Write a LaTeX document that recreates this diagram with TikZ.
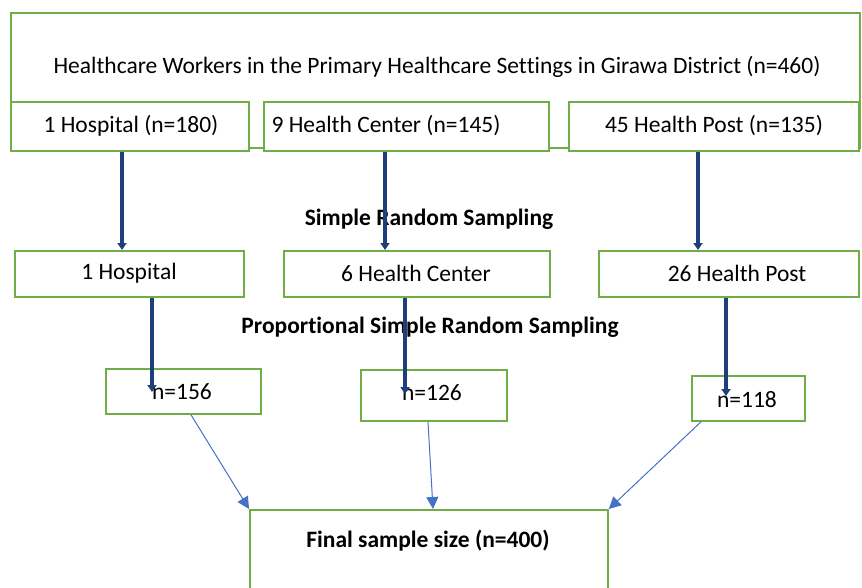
\documentclass[tikz,border=0pt]{standalone}
\usepackage{fontspec}
\setmainfont[Ligatures=NoCommon]{Carlito}
\usetikzlibrary{arrows.meta}
\definecolor{boxgreen}{HTML}{70AD47}
\definecolor{navy}{HTML}{1F3F7A}
\definecolor{thinblue}{HTML}{4472C4}
\newcommand{\nolig}{\kern0pt}
\begin{document}
\begin{tikzpicture}[x=1pt,y=-1pt,
  box/.style={draw=boxgreen,line width=1.8pt,fill=white,anchor=north west,inner sep=0pt},
  txt/.style={font=\fontsize{23.5}{28}\selectfont,inner sep=0pt},
  lbl/.style={font=\fontsize{23.5}{28}\selectfont\bfseries,inner sep=0pt},
  thick arrow/.style={draw=navy,line width=3.4pt,-{Triangle[length=7pt,width=9pt]}},
  thin arrow/.style={draw=thinblue,line width=1pt,-{Triangle[length=12pt,width=12pt]}}]
\useasboundingbox (0,0) rectangle (862,587);
% top
\node[box,minimum width=849pt,minimum height=135pt] (top) at (10,12) {};
\node[txt] (toptxt) at (437,67) {Healthcare Workers in the Primary Healthcare Set\nolig t\nolig ings in Girawa District (n=460)};
% row 1
\node[box,minimum width=238pt,minimum height=49pt] (r1a) at (10,101) {};
\node[txt] (r1at) at (131,126) {1 Hospital (n=180)};
\node[box,minimum width=285pt,minimum height=49pt] (r1b) at (263,101) {};
\node[txt] (r1bt) at (386,126) {9 Health Center (n=145)};
\node[box,minimum width=290pt,minimum height=49pt] (r1c) at (568,101) {};
\node[txt] (r1ct) at (714,126) {45 Health Post (n=135)};
% label 1
\node[lbl] (srs) at (429,219) {Simple Random Sampling};
% row 2
\node[box,minimum width=229pt,minimum height=46pt] (r2a) at (14,250) {};
\node[txt] (r2at) at (129,273) {1 Hospital};
\node[box,minimum width=266pt,minimum height=46pt] (r2b) at (283,250) {};
\node[txt] (r2bt) at (416,273) {6 Health Center};
\node[box,minimum width=260pt,minimum height=46pt] (r2c) at (598,250) {};
\node[txt] (r2ct) at (737,273) {26 Health Post};
% label 2
\node[lbl] (psrs) at (430,327) {Proport\nolig ional Simple Random Sampling};
% row 3
\node[box,minimum width=155pt,minimum height=45pt] (r3a) at (105,368) {};
\node[txt] (r3at) at (182,392) {n=156};
\node[box,minimum width=146pt,minimum height=51pt] (r3b) at (360,369) {};
\node[txt] (r3bt) at (432,393) {n=126};
\node[box,minimum width=113pt,minimum height=45pt] (r3c) at (691,375) {};
\node[txt] (r3ct) at (747,400) {n=118};
% final
\node[box,minimum width=358pt,minimum height=90pt] (fin) at (249,509) {};
\node[lbl] (fint) at (428,541) {Final sample size (n=400)};
% thick arrows
\coordinate (e1) at (152,392);
\coordinate (e2) at (405,394);
\coordinate (e3) at (726,396);
\draw[thick arrow] (r1a.south -| 122,0) -- (r2a.north -| 122,0);
\draw[thick arrow] (r1b.south -| 385,0) -- (r2b.north -| 385,0);
\draw[thick arrow] (r1c.south -| 698,0) -- (r2c.north -| 698,0);
\draw[thick arrow] (r2a.south -| e1) -- (e1);
\draw[thick arrow] (r2b.south -| e2) -- (e2);
\draw[thick arrow] (r2c.south -| e3) -- (e3);
% thin arrows
\draw[thin arrow] (r3a.south -| 191,0) -- (fin.north west);
\draw[thin arrow] (r3b.south -| 428,0) -- (fin.north -| 433,0);
\draw[thin arrow] (r3c.south -| 701,0) -- (fin.north east);
\end{tikzpicture}
\end{document}
